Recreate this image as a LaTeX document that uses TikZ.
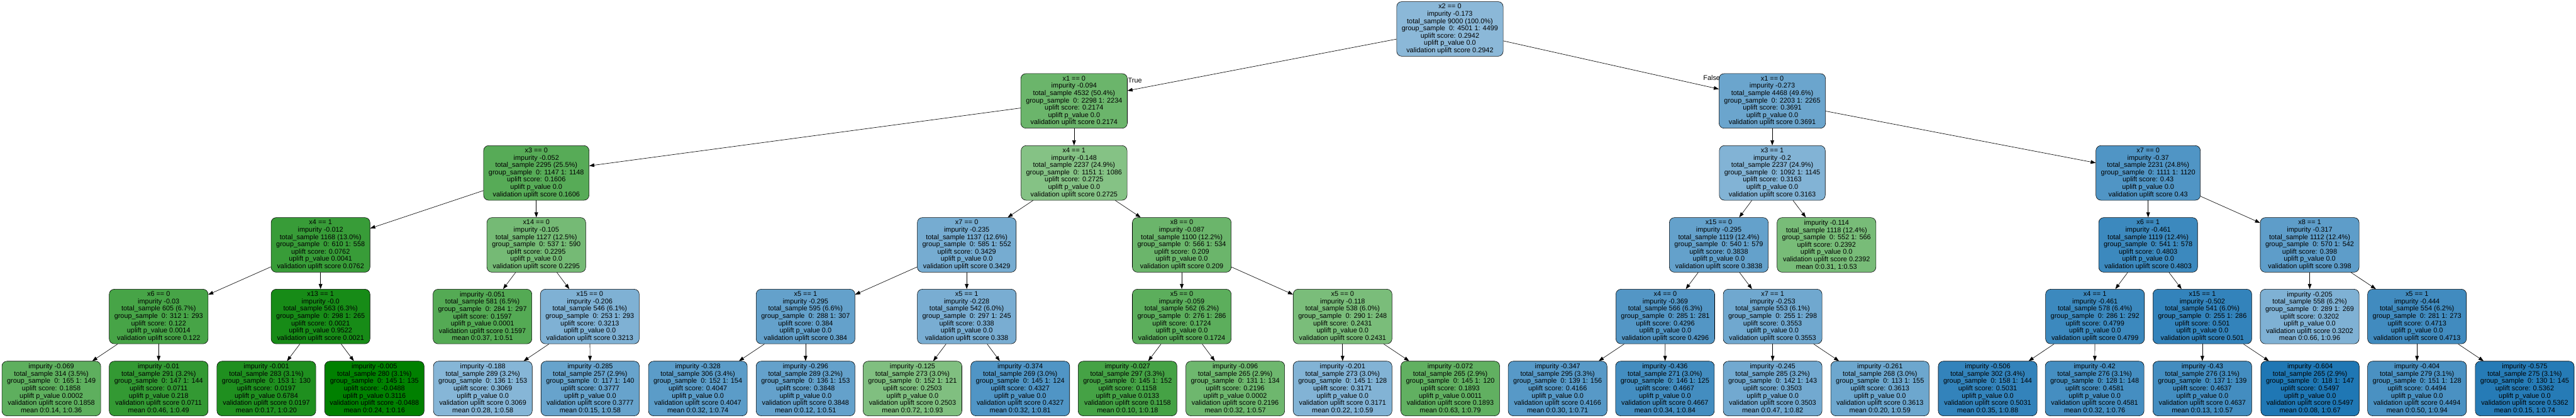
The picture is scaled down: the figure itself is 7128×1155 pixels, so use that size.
\documentclass[tikz,border=0pt]{standalone}
\usepackage{fontspec}
\setmainfont{Liberation Sans}
\usetikzlibrary{arrows.meta}
\definecolor{ubl}{HTML}{1F77B4}
\definecolor{ugr}{HTML}{008000}
\newcommand{\intxt}[6]{#1\\impurity #2\\total\_sample #3\\group\_sample\ \ #4\\uplift score: #5\\uplift p\_value #6\\validation uplift score #5}
\newcommand{\lftxt}[6]{impurity #1\\total\_sample #2\\group\_sample\ \ #3\\uplift score: #4\\uplift p\_value #5\\validation uplift score #4\\mean #6}
\begin{document}
\begin{tikzpicture}[x=0.5pt,y=-0.5pt,
 tbox/.style={draw=black, line width=0.5pt, rounded corners=7pt, align=center, minimum width=136pt, minimum height=75.5pt, inner xsep=7pt, inner ysep=0pt, font=\fontsize{9.5}{10.1}\selectfont},
 edge/.style={draw=black, line width=0.55pt, -{Triangle[length=7pt,width=5pt]}},
 elab/.style={font=\fontsize{9.5}{10.1}\selectfont, inner sep=0pt}]
\useasboundingbox (0,0) rectangle (7128,1155);
% level 0
\node[tbox, fill=ubl!52!white] (r) at (4012,80) {\intxt{x2 == 0}{-0.173}{9000 (100.0\%)}{0: 4501 1: 4499}{0.2942}{0.0}};
% level 1
\node[tbox, fill=ugr!58!white] (a) at (2972,279) {\intxt{x1 == 0}{-0.094}{4532 (50.4\%)}{0: 2298 1: 2234}{0.2174}{0.0}};
\node[tbox, fill=ubl!66!white] (b) at (4904,279) {\intxt{x1 == 0}{-0.273}{4468 (49.6\%)}{0: 2203 1: 2265}{0.3691}{0.0}};
% level 2
\node[tbox, fill=ugr!66!white] (c) at (1484,478) {\intxt{x3 == 0}{-0.052}{2295 (25.5\%)}{0: 1147 1: 1148}{0.1606}{0.0}};
\node[tbox, fill=ugr!48!white] (d) at (2972,478) {\intxt{x4 == 1}{-0.148}{2237 (24.9\%)}{0: 1151 1: 1086}{0.2725}{0.0}};
\node[tbox, fill=ubl!56!white] (e) at (4904,478) {\intxt{x3 == 1}{-0.2}{2237 (24.9\%)}{0: 1092 1: 1145}{0.3163}{0.0}};
\node[tbox, fill=ubl!78!white] (f) at (5944,478) {\intxt{x7 == 0}{-0.37}{2231 (24.8\%)}{0: 1111 1: 1120}{0.43}{0.0}};
% level 3
\node[tbox, fill=ugr!78!white] (c1) at (887,677) {\intxt{x4 == 1}{-0.012}{1168 (13.0\%)}{0: 610 1: 558}{0.0762}{0.0041}};
\node[tbox, fill=ugr!54!white] (c2) at (1484,677) {\intxt{x14 == 0}{-0.105}{1127 (12.5\%)}{0: 537 1: 590}{0.2295}{0.0}};
\node[tbox, fill=ubl!61!white] (d1) at (2675,677) {\intxt{x7 == 0}{-0.235}{1137 (12.6\%)}{0: 585 1: 552}{0.3429}{0.0}};
\node[tbox, fill=ugr!58!white] (d2) at (3270,677) {\intxt{x8 == 0}{-0.087}{1100 (12.2\%)}{0: 566 1: 534}{0.209}{0.0}};
\node[tbox, fill=ubl!69!white] (e1) at (4756,677) {\intxt{x15 == 0}{-0.295}{1119 (12.4\%)}{0: 540 1: 579}{0.3838}{0.0}};
\node[tbox, fill=ugr!53!white] (e2) at (5054,677) {\lftxt{-0.114}{1118 (12.4\%)}{0: 552 1: 566}{0.2392}{0.0}{0:0.31, 1:0.53}};
\node[tbox, fill=ubl!87!white] (f1) at (5944,677) {\intxt{x6 == 1}{-0.461}{1119 (12.4\%)}{0: 541 1: 578}{0.4803}{0.0}};
\node[tbox, fill=ubl!72!white] (f2) at (6391,677) {\intxt{x8 == 1}{-0.317}{1112 (12.4\%)}{0: 570 1: 542}{0.398}{0.0}};
% level 4
\node[tbox, fill=ugr!72!white] (c11) at (439,875) {\intxt{x6 == 0}{-0.03}{605 (6.7\%)}{0: 312 1: 293}{0.122}{0.0014}};
\node[tbox, fill=ugr!91!white] (c12) at (887,875) {\intxt{x13 == 1}{-0.0}{563 (6.3\%)}{0: 298 1: 265}{0.0021}{0.9522}};
\node[tbox, fill=ugr!67!white] (c21) at (1335,875) {\lftxt{-0.051}{581 (6.5\%)}{0: 284 1: 297}{0.1597}{0.0001}{0:0.37, 1:0.51}};
\node[tbox, fill=ubl!57!white] (c22) at (1632,875) {\intxt{x15 == 0}{-0.206}{546 (6.1\%)}{0: 253 1: 293}{0.3213}{0.0}};
\node[tbox, fill=ubl!69!white] (d11) at (2229,875) {\intxt{x5 == 1}{-0.295}{595 (6.6\%)}{0: 288 1: 307}{0.384}{0.0}};
\node[tbox, fill=ubl!60!white] (d12) at (2675,875) {\intxt{x5 == 1}{-0.228}{542 (6.0\%)}{0: 297 1: 245}{0.338}{0.0}};
\node[tbox, fill=ugr!64!white] (d21) at (3270,875) {\intxt{x5 == 0}{-0.059}{562 (6.2\%)}{0: 276 1: 286}{0.1724}{0.0}};
\node[tbox, fill=ugr!52!white] (d22) at (3715,875) {\intxt{x5 == 0}{-0.118}{538 (6.0\%)}{0: 290 1: 248}{0.2431}{0.0}};
\node[tbox, fill=ubl!77!white] (e11) at (4608,875) {\intxt{x4 == 0}{-0.369}{566 (6.3\%)}{0: 285 1: 281}{0.4296}{0.0}};
\node[tbox, fill=ubl!64!white] (e12) at (4905,875) {\intxt{x7 == 1}{-0.253}{553 (6.1\%)}{0: 255 1: 298}{0.3553}{0.0}};
\node[tbox, fill=ubl!87!white] (f11) at (5797,875) {\intxt{x4 == 1}{-0.461}{578 (6.4\%)}{0: 286 1: 292}{0.4799}{0.0}};
\node[tbox, fill=ubl!91!white] (f12) at (6094,875) {\intxt{x15 == 1}{-0.502}{541 (6.0\%)}{0: 255 1: 286}{0.501}{0.0}};
\node[tbox, fill=ubl!57!white] (f21) at (6391,875) {\lftxt{-0.205}{558 (6.2\%)}{0: 289 1: 269}{0.3202}{0.0}{0:0.66, 1:0.96}};
\node[tbox, fill=ubl!85!white] (f22) at (6688,875) {\intxt{x5 == 1}{-0.444}{554 (6.2\%)}{0: 281 1: 273}{0.4713}{0.0}};
% level 5
\node[tbox, fill=ugr!63!white] (c111) at (142,1074) {\lftxt{-0.069}{314 (3.5\%)}{0: 165 1: 149}{0.1858}{0.0002}{0:0.14, 1:0.36}};
\node[tbox, fill=ugr!80!white] (c112) at (439,1074) {\lftxt{-0.01}{291 (3.2\%)}{0: 147 1: 144}{0.0711}{0.218}{0:0.46, 1:0.49}};
\node[tbox, fill=ugr!88!white] (c121) at (737,1074) {\lftxt{-0.001}{283 (3.1\%)}{0: 153 1: 130}{0.0197}{0.6784}{0:0.17, 1:0.20}};
\node[tbox, fill=ugr!100!white] (c122) at (1036,1074) {\lftxt{-0.005}{280 (3.1\%)}{0: 145 1: 135}{-0.0488}{0.3116}{0:0.24, 1:0.16}};
\node[tbox, fill=ubl!54!white] (c221) at (1336,1074) {\lftxt{-0.188}{289 (3.2\%)}{0: 136 1: 153}{0.3069}{0.0}{0:0.28, 1:0.58}};
\node[tbox, fill=ubl!68!white] (c222) at (1633,1074) {\lftxt{-0.285}{257 (2.9\%)}{0: 117 1: 140}{0.3777}{0.0}{0:0.15, 1:0.58}};
\node[tbox, fill=ubl!73!white] (d111) at (1931,1074) {\lftxt{-0.328}{306 (3.4\%)}{0: 152 1: 154}{0.4047}{0.0}{0:0.32, 1:0.74}};
\node[tbox, fill=ubl!69!white] (d112) at (2229,1074) {\lftxt{-0.296}{289 (3.2\%)}{0: 136 1: 153}{0.3848}{0.0}{0:0.12, 1:0.51}};
\node[tbox, fill=ugr!50!white] (d121) at (2525,1074) {\lftxt{-0.125}{273 (3.0\%)}{0: 152 1: 121}{0.2503}{0.0}{0:0.72, 1:0.93}};
\node[tbox, fill=ubl!78!white] (d122) at (2823,1074) {\lftxt{-0.374}{269 (3.0\%)}{0: 145 1: 124}{0.4327}{0.0}{0:0.32, 1:0.81}};
\node[tbox, fill=ugr!73!white] (d211) at (3120,1074) {\lftxt{-0.027}{297 (3.3\%)}{0: 145 1: 152}{0.1158}{0.0133}{0:0.10, 1:0.18}};
\node[tbox, fill=ugr!57!white] (d212) at (3418,1074) {\lftxt{-0.096}{265 (2.9\%)}{0: 131 1: 134}{0.2196}{0.0002}{0:0.32, 1:0.57}};
\node[tbox, fill=ubl!56!white] (d221) at (3715,1074) {\lftxt{-0.201}{273 (3.0\%)}{0: 145 1: 128}{0.3171}{0.0}{0:0.22, 1:0.59}};
\node[tbox, fill=ugr!62!white] (d222) at (4013,1074) {\lftxt{-0.072}{265 (2.9\%)}{0: 145 1: 120}{0.1893}{0.0011}{0:0.63, 1:0.79}};
\node[tbox, fill=ubl!75!white] (e111) at (4310,1074) {\lftxt{-0.347}{295 (3.3\%)}{0: 139 1: 156}{0.4166}{0.0}{0:0.30, 1:0.71}};
\node[tbox, fill=ubl!84!white] (e112) at (4607,1074) {\lftxt{-0.436}{271 (3.0\%)}{0: 146 1: 125}{0.4667}{0.0}{0:0.34, 1:0.84}};
\node[tbox, fill=ubl!63!white] (e121) at (4905,1074) {\lftxt{-0.245}{285 (3.2\%)}{0: 142 1: 143}{0.3503}{0.0}{0:0.47, 1:0.82}};
\node[tbox, fill=ubl!65!white] (e122) at (5202,1074) {\lftxt{-0.261}{268 (3.0\%)}{0: 113 1: 155}{0.3613}{0.0}{0:0.20, 1:0.59}};
\node[tbox, fill=ubl!91!white] (f111) at (5500,1074) {\lftxt{-0.506}{302 (3.4\%)}{0: 158 1: 144}{0.5031}{0.0}{0:0.35, 1:0.88}};
\node[tbox, fill=ubl!83!white] (f112) at (5796,1074) {\lftxt{-0.42}{276 (3.1\%)}{0: 128 1: 148}{0.4581}{0.0}{0:0.32, 1:0.76}};
\node[tbox, fill=ubl!84!white] (f121) at (6094,1074) {\lftxt{-0.43}{276 (3.1\%)}{0: 137 1: 139}{0.4637}{0.0}{0:0.13, 1:0.57}};
\node[tbox, fill=ubl!100!white] (f122) at (6392,1074) {\lftxt{-0.604}{265 (2.9\%)}{0: 118 1: 147}{0.5497}{0.0}{0:0.08, 1:0.67}};
\node[tbox, fill=ubl!81!white] (f221) at (6688,1074) {\lftxt{-0.404}{279 (3.1\%)}{0: 151 1: 128}{0.4494}{0.0}{0:0.50, 1:0.94}};
\node[tbox, fill=ubl!97!white] (f222) at (6986,1074) {\lftxt{-0.575}{275 (3.1\%)}{0: 130 1: 145}{0.5362}{0.0}{0:0.15, 1:0.74}};
% edges
\draw[edge] (r) -- (a);
\draw[edge] (r) -- (b);
\draw[edge] (a) -- (c);
\draw[edge] (a) -- (d);
\draw[edge] (b) -- (e);
\draw[edge] (b) -- (f);
\draw[edge] (c) -- (c1);
\draw[edge] (c) -- (c2);
\draw[edge] (d) -- (d1);
\draw[edge] (d) -- (d2);
\draw[edge] (e) -- (e1);
\draw[edge] (e) -- (e2);
\draw[edge] (f) -- (f1);
\draw[edge] (f) -- (f2);
\draw[edge] (c1) -- (c11);
\draw[edge] (c1) -- (c12);
\draw[edge] (c2) -- (c21);
\draw[edge] (c2) -- (c22);
\draw[edge] (d1) -- (d11);
\draw[edge] (d1) -- (d12);
\draw[edge] (d2) -- (d21);
\draw[edge] (d2) -- (d22);
\draw[edge] (e1) -- (e11);
\draw[edge] (e1) -- (e12);
\draw[edge] (f1) -- (f11);
\draw[edge] (f1) -- (f12);
\draw[edge] (f2) -- (f21);
\draw[edge] (f2) -- (f22);
\draw[edge] (c11) -- (c111);
\draw[edge] (c11) -- (c112);
\draw[edge] (c12) -- (c121);
\draw[edge] (c12) -- (c122);
\draw[edge] (c22) -- (c221);
\draw[edge] (c22) -- (c222);
\draw[edge] (d11) -- (d111);
\draw[edge] (d11) -- (d112);
\draw[edge] (d12) -- (d121);
\draw[edge] (d12) -- (d122);
\draw[edge] (d21) -- (d211);
\draw[edge] (d21) -- (d212);
\draw[edge] (d22) -- (d221);
\draw[edge] (d22) -- (d222);
\draw[edge] (e11) -- (e111);
\draw[edge] (e11) -- (e112);
\draw[edge] (e12) -- (e121);
\draw[edge] (e12) -- (e122);
\draw[edge] (f11) -- (f111);
\draw[edge] (f11) -- (f112);
\draw[edge] (f12) -- (f121);
\draw[edge] (f12) -- (f122);
\draw[edge] (f22) -- (f221);
\draw[edge] (f22) -- (f222);
% edge labels
\node[elab, anchor=west] (ltrue) at (3121,222) {True};
\node[elab, anchor=east] (lfalse) at (4760,215) {False};
\end{tikzpicture}
\end{document}
